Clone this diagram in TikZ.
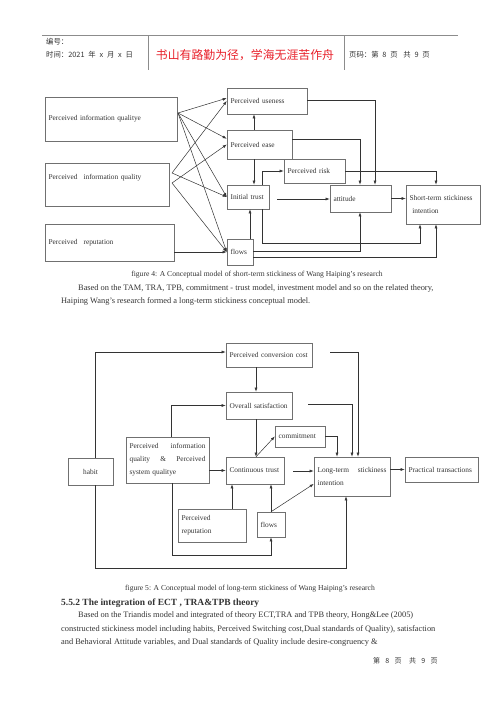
\documentclass[tikz,border=0pt]{standalone}
\usepackage{fontspec}
\setmainfont{Liberation Serif}
\newfontfamily\cjk{Noto Sans CJK SC}
\usetikzlibrary{arrows.meta}
\definecolor{inkgray}{HTML}{333333}
\definecolor{boxgray}{HTML}{707070}
\definecolor{headred}{HTML}{E8202A}

\begin{document}
\begin{tikzpicture}
	[x=0.42mm,y=-0.42mm,>={Latex[length=1.7mm,width=1.2mm]},
	 every node/.style={inner sep=0pt,text=inkgray},
	 box/.style 2 args={draw=boxgray,line width=0.6pt,rectangle,inner xsep=1.5mm,inner ysep=0pt,align=left,
	   minimum width=#1*0.42mm,minimum height=#2*0.42mm,text width=#1*0.42mm-3mm,
	   font=\fontsize{8.8}{15.6}\selectfont},
	 link/.style={->,draw=inkgray,line width=0.6pt},
	 body/.style={anchor=west,font=\fontsize{10}{12}\selectfont},
	 caption/.style={font=\fontsize{9.1}{11}\selectfont},
	 head/.style={anchor=west,font=\cjk\fontsize{8.8}{10}\selectfont}] % sizes and positions are in pixels of the page, y runs downwards

	\useasboundingbox (0,0) rectangle (500,707);

	% page head
	\draw[black!45,line width=0.6pt] (42,35.5) -- (458,35.5);
	\draw[black!45,line width=0.6pt] (148,35.5) -- (148,70) (344,35.5) -- (344,70);
	\node[head] (hnum) at (46,42) {编号：};
	\node[head] (htime) at (46,55) {时间：2021\hspace{1.6mm}年\hspace{1.6mm}x\hspace{1.6mm}月\hspace{1.6mm}x\hspace{1.6mm}日};
	\node[font=\cjk\fontsize{14.2}{16}\selectfont,text=headred] (hmotto) at (245,55) {书山有路勤为径，学海无涯苦作舟};
	\node[head] (hpage) at (349,55) {页码：第\hspace{1.6mm}8\hspace{1.6mm}页\hspace{2.4mm}共\hspace{1.6mm}9\hspace{1.6mm}页};

	% figure 4
	\node[box={132}{44}] (qA) at (111,119) {Perceived information qualitye};
	\node[box={124}{43}] (qB) at (107,184.5) {Perceived\hspace{2.5mm}information quality\\[1mm]\mbox{}};
	\node[box={129}{37}] (qC) at (109.5,242.5) {Perceived\hspace{2.5mm}reputation};
	\node[box={80}{26}] (useful) at (267,101) {Perceived useness};
	\node[box={65}{29}] (ease) at (259.5,144.5) {Perceived ease};
	\node[box={61}{24}] (risk) at (314.5,171) {Perceived risk};
	\node[box={42}{24}] (trust) at (248,197) {Initial trust};
	\node[box={61}{27}] (attitude) at (360.5,198.5) {attitude};
	\node[box={74}{39}] (short) at (443,204.5) {Short-term stickiness\\\hspace*{1.2mm}intention};
	\node[box={26}{26}] (flows) at (240,252) {flows};

	\coordinate (kA) at (178,113);
	\coordinate (kB1) at (172,173);
	\coordinate (kB2) at (172,183);
	\coordinate (kT) at (277,199);
	\coordinate (cE) at (254,0);
	\coordinate (cF) at (250,0);
	\coordinate (cT) at (262,243);
	\coordinate (cS) at (420,243);
	\coordinate (cU) at (375,100);
	\coordinate (cEa) at (360,139);
	\coordinate (cR) at (436,0);
	\coordinate (cF1) at (360,251);
	\coordinate (cF2) at (436,257);

	\draw[link] (kA) -- (useful.176);
	\draw[link] (kA) -- (ease.170);
	\draw[link] (kA) -- (trust.west);
	\draw[link] (kA) -- (flows.west);
	\draw[link] (kB1) -- (useful.west);
	\draw[link] (kB1) -- (trust.west);
	\draw[link] (kB2) -- (ease.west);
	\draw[link] (kB2) -- (flows.west);
	\draw[link] (qC.east |- flows.west) -- (flows.west);
	\draw[link] (ease.north -| cE) -- (useful.south -| cE);
	\draw[link] (ease.south -| cE) -- (trust.north -| cE);
	\draw[link] (flows.north -| cF) -- (trust.south -| cF);
	\draw[link] (trust.north -| cT) |- (risk.west);
	\draw[link] (trust.south -| cT) -- (cT) -- (cS) -- (short.south -| cS);
	\draw[link] (kT) -- (kT -| attitude.west);
	\draw[link] (attitude.east) -- (attitude.east -| short.west);
	\draw[link] (useful.east |- cU) -| (attitude.north -| cU);
	\draw[link] (ease.east |- cEa) -| (attitude.north -| cEa);
	\draw[link] (risk.east) -| (short.north -| cR);
	\draw[link] (flows.east |- cF1) -| (attitude.south -| cF1);
	\draw[link] (flows.east |- cF2) -| (short.south -| cF2);

	\node[caption] (cap4) at (257,275) {figure 4: A Conceptual model of short-term stickiness of Wang Haiping’s research};
	\node[body] (txt1) at (78,288) {Based on the TAM, TRA, TPB, commitment - trust model, investment model and so on the related theory,};
	\node[body] (txt2) at (61,301) {Haiping Wang’s research formed a long-term stickiness conceptual model.};

	% figure 5
	\node[box={86}{24}] (cost) at (269,355) {Perceived conversion cost};
	\node[box={66}{27}] (sat) at (259,405.5) {Overall satisfaction};
	\node[box={50}{21}] (commit) at (300,436.5) {commitment};
	\node[box={58}{27}] (ctrust) at (255,470.5) {Continuous trust};
	\node[box={83}{46}] (pq) at (167.5,460) {\makebox[\linewidth][l]{Perceived\hfill information}\\\makebox[\linewidth][l]{quality\hfill\&\hfill Perceived}\\system qualitye};
	\node[box={45}{27},align=center] (habit) at (90.5,471.5) {habit};
	\node[box={76}{39}] (lt) at (352,476.5) {\makebox[\linewidth][l]{Long-term\hfill stickiness}\\intention};
	\node[box={73}{25}] (pt) at (441.5,469.5) {Practical transactions};
	\node[box={68}{33}] (rep) at (212,525.5) {Perceived\\reputation};
	\node[box={28}{25}] (flows2) at (271,524.5) {flows};

	\coordinate (hA) at (95,352);
	\coordinate (hB) at (95,568);
	\coordinate (hC) at (346,568);
	\coordinate (cK) at (256,0);
	\coordinate (cM) at (337,0);
	\coordinate (kS) at (308,404);
	\coordinate (kC) at (330,352);
	\coordinate (cN) at (358,0);
	\coordinate (cQ) at (171,0);
	\coordinate (kP) at (172,555);
	\coordinate (cR2) at (232,0);
	\coordinate (kL) at (293,471);

	\draw[link] (habit.north -| hA) -- (hA) -- (hA -| cost.west);
	\draw[link] (habit.south -| hB) -- (hB) -- (hC) -- (lt.south -| hC);
	\draw[link] (cost.south -| cK) -- (sat.north -| cK);
	\draw[link] (sat.south -| cK) -- (ctrust.north -| cK);
	\draw[link] (ctrust.north -| cK) -- (commit.west);
	\draw[link] (commit.east) -| (lt.north -| cM);
	\draw[link] (kS) -| (lt.north);
	\draw[link] (kC) -| (lt.north -| cN);
	\draw[link] (pq.east |- ctrust.west) -- (ctrust.west);
	\draw[link] (pq.north -| cQ) |- (sat.west);
	\draw[link] (pq.south -| kP) -- (kP) -| (flows2.south);
	\draw[link] (rep.north -| cR2) -- (ctrust.south -| cR2);
	\draw[link] (flows2.north) -- (flows2.north |- ctrust.south);
	\draw[link] (flows2.north) -- (lt.191);
	\draw[link] (kL) -- (kL -| lt.west);
	\draw[link] (lt.east |- pt.west) -- (pt.west);

	\node[caption] (cap5) at (250,589) {figure 5: A Conceptual model of long-term stickiness of Wang Haiping’s research};
	\node[body,font=\fontsize{11.3}{13}\selectfont\bfseries] (sec) at (61,603) {5.5.2 The integration of ECT , TRA\&TPB theory};
	\node[body] (txt3) at (78,615) {Based on the Triandis model and integrated of theory ECT,TRA and TPB theory, Hong\&Lee (2005)};
	\node[body] (txt4) at (61,629) {constructed stickiness model including habits, Perceived Switching cost,Dual standards of Quality), satisfaction};
	\node[body] (txt5) at (61,642) {and Behavioral Attitude variables, and Dual standards of Quality include desire-congruency \&};
	\node[anchor=west,font=\cjk\fontsize{8.4}{10}\selectfont] (foot) at (373,661) {第\hspace{2.2mm}8\hspace{2.2mm}页\hspace{3.2mm}共\hspace{2.2mm}9\hspace{2.2mm}页};

\end{tikzpicture}
\end{document}
